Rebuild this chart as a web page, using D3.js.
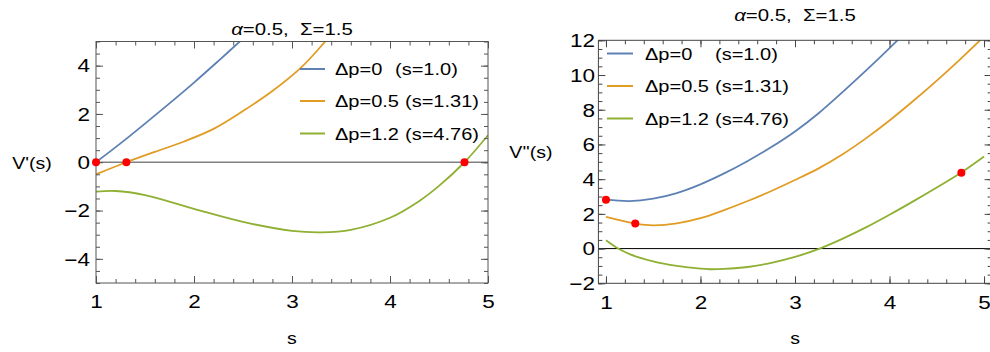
<!DOCTYPE html>
<html>
<head>
<meta charset="utf-8">
<script src="https://cdn.jsdelivr.net/npm/d3@7"></script>
<style>
  body { margin: 0; background: #fff; }
  text { font-family: "Liberation Sans", Arial, sans-serif; fill: #000; }
</style>
</head>
<body>
<svg id="chart" width="990" height="352"></svg>
<script>
// legend text
const seriesLabels = ["Δp=0", "Δp=0.5", "Δp=1.2"]
const rootLabels = ["(s=1.0)", "(s=1.31)", "(s=4.76)"]

// V'(s): [s, value]
const d1Dp0 = [[1, 0], [1.25, 0.78], [1.5, 1.6], [1.75, 2.44], [2.0, 3.3], [2.25, 4.2], [2.5, 5.12], [2.6, 5.5]]
const d1Dp05 = [[1, -0.5], [1.31, 0], [1.6, 0.43], [1.9, 0.86], [2.2, 1.38], [2.5, 2.12], [2.8, 2.95], [3.1, 3.95], [3.35, 5.05], [3.45, 5.5]]
const d1Dp12 = [[1, -1.22], [1.2, -1.19], [1.5, -1.36], [2.0, -1.93], [2.5, -2.47], [3.0, -2.84], [3.3, -2.9],
  [3.6, -2.8], [4.0, -2.3], [4.3, -1.6], [4.5, -0.98], [4.76, 0], [5.0, 1.12]]
const d1Roots = [[1.0, 0], [1.31, 0], [4.76, 0]]

// V''(s)
const d2Dp0 = [[1, 2.82], [1.25, 2.74], [1.5, 2.88], [1.75, 3.2], [2.0, 3.7], [2.25, 4.33], [2.5, 5.05], [2.75, 5.85],
  [3.0, 6.75], [3.25, 7.8], [3.5, 9.0], [3.75, 10.25], [4.0, 11.55], [4.25, 12.9]]
const d2Dp05 = [[1, 1.82], [1.31, 1.44], [1.5, 1.34], [1.75, 1.45], [2.0, 1.75], [2.25, 2.22], [2.5, 2.74], [2.75, 3.32],
  [3.0, 3.95], [3.25, 4.62], [3.5, 5.42], [3.75, 6.35], [4.0, 7.38], [4.25, 8.5], [4.5, 9.68], [4.75, 10.92], [5.0, 12.22]]
const d2Dp12 = [[1, 0.48], [1.13, 0], [1.25, -0.32], [1.5, -0.74], [1.75, -1.0], [2.0, -1.16], [2.1, -1.19], [2.25, -1.17],
  [2.5, -1.06], [2.75, -0.82], [3.0, -0.48], [3.26, 0], [3.5, 0.56], [3.75, 1.22], [4.0, 1.95], [4.25, 2.72],
  [4.5, 3.52], [4.76, 4.38], [5.0, 5.3]]
const d2Roots = [[1.0, 2.82], [1.31, 1.44], [4.76, 4.37]]

// tick labels
const xTicks = [1, 2, 3, 4, 5]
const y1Ticks = [-4, -2, 0, 2, 4]
const y2Ticks = [-2, 0, 2, 4, 6, 8, 10, 12]

const colors = ["#5e81b5", "#e19c24", "#8fb032"]
const stretch = 1.25   // reference text is drawn wide

const svg = d3.select("#chart")
svg.append("rect").attr("width", 990).attr("height", 352).attr("fill", "#fff")

function label(g, x, y, str, size, anchor, k) {
    return g.append("text")
        .attr("transform", `translate(${x},${y}) scale(${k},1)`)
        .attr("font-size", size)
        .attr("text-anchor", anchor)
        .style("white-space", "pre")
        .text(str)
}

function panel(p) {
    const g = svg.append("g")
    const x = d3.scaleLinear().domain(p.xDomain).range(p.xRange)
    const y = d3.scaleLinear().domain(p.yDomain).range(p.yRange)
    const [x0, x1] = p.xRange
    const [yb, yt] = p.yRange

    const clipId = "clip" + p.id
    g.append("clipPath").attr("id", clipId)
        .append("rect").attr("x", x0).attr("y", yt).attr("width", x1 - x0).attr("height", yb - yt)

    // zero line
    g.append("line")
        .attr("x1", x0).attr("x2", x1)
        .attr("y1", y(0)).attr("y2", y(0))
        .attr("stroke", p.zeroColor).attr("stroke-width", p.zeroWidth)

    // curves
    const line = d3.line()
        .x(d => x(d[0]))
        .y(d => y(d[1]))
        .curve(d3.curveCatmullRom.alpha(0.5))

    g.append("g").attr("clip-path", `url(#${clipId})`)
        .selectAll("path").data(p.series).enter()
        .append("path")
        .attr("d", line)
        .attr("fill", "none")
        .attr("stroke", (d, i) => colors[i])
        .attr("stroke-width", 1.8)

    // frame ticks, pointing inward on all four sides
    const xMinor = d3.range(1, 5.001, 0.2)
    const yMinor = d3.range(p.yDomain[0], p.yDomain[1] + 0.001, 0.5)
    const noDomain = s => s.select(".domain").remove()
    const frameTicks = (axis, tr, vals, size) => {
        g.append("g").attr("transform", tr)
            .call(axis.tickValues(vals).tickSize(size).tickFormat(""))
            .call(noDomain)
            .selectAll("line").attr("stroke", p.frameColor)
    }
    frameTicks(d3.axisTop(x), `translate(0,${yb})`, xMinor, 4)
    frameTicks(d3.axisTop(x), `translate(0,${yb})`, xTicks, 7)
    frameTicks(d3.axisBottom(x), `translate(0,${yt})`, xMinor, 4)
    frameTicks(d3.axisBottom(x), `translate(0,${yt})`, xTicks, 7)
    frameTicks(d3.axisRight(y), `translate(${x0},0)`, yMinor, 4)
    frameTicks(d3.axisRight(y), `translate(${x0},0)`, p.yTicks, 7)
    frameTicks(d3.axisLeft(y), `translate(${x1},0)`, yMinor, 4)
    frameTicks(d3.axisLeft(y), `translate(${x1},0)`, p.yTicks, 7)

    g.append("rect")
        .attr("x", x0).attr("y", yt)
        .attr("width", x1 - x0).attr("height", yb - yt)
        .attr("fill", "none").attr("stroke", p.frameColor).attr("stroke-width", 1)

    // tick labels
    g.append("g").attr("transform", `translate(0,${yb})`)
        .call(d3.axisBottom(x).tickValues(xTicks).tickSize(0).tickFormat(d3.format("d")))
        .call(noDomain)
        .selectAll("text")
        .attr("y", 25.5).attr("dy", 0)
        .attr("font-size", 18)
        .attr("font-family", null)
        .attr("transform", `scale(${stretch},1)`)

    g.append("g").attr("transform", `translate(${x0},0)`)
        .call(d3.axisLeft(y).tickValues(p.yTicks).tickSize(0).tickFormat(d3.format("d")))
        .call(noDomain)
        .selectAll("text")
        .attr("x", 0).attr("dy", "0.35em")
        .attr("font-size", 18)
        .attr("font-family", null)
        .attr("transform", `translate(${-p.yLabelGap},0) scale(${stretch},1)`)

    // red points at the roots
    g.append("g").selectAll("circle").data(p.roots).enter()
        .append("circle")
        .attr("cx", d => x(d[0]))
        .attr("cy", d => y(d[1]))
        .attr("r", 4)
        .attr("fill", "#ff0000")

    // title and axis labels
    const title = g.append("text")
        .attr("transform", `translate(${p.titlePos[0]},${p.titlePos[1]}) scale(1.2,1)`)
        .attr("font-size", 17)
        .attr("text-anchor", "middle")
        .style("white-space", "pre")
    title.append("tspan").attr("font-style", "italic").text("α")
    title.append("tspan").text("=0.5,  Σ=1.5")

    label(g, p.yLabelPos[0], p.yLabelPos[1], p.yLabel, 17, "middle", 1.15)
    label(g, (x0 + Math.min(x1, 990)) / 2 + p.sLabelShift, 344, "s", 17, "middle", 1.15)

    // legend
    const lg = g.append("g")
    seriesLabels.forEach((s, i) => {
        const ly = p.legendRows[i]
        lg.append("line")
            .attr("x1", p.legendLine[0]).attr("x2", p.legendLine[1])
            .attr("y1", ly).attr("y2", ly)
            .attr("stroke", colors[i]).attr("stroke-width", 2)
        label(lg, p.legendText, ly + 6, s, 16, "start", stretch)
        label(lg, p.rootText[i], ly + 6, rootLabels[i], 16, "start", stretch)
    })
}

panel({
    id: 1,
    xDomain: [1, 5], xRange: [96, 488],
    yDomain: [-5, 5], yRange: [283, 41.5],
    yTicks: y1Ticks,
    series: [d1Dp0, d1Dp05, d1Dp12],
    roots: d1Roots,
    zeroColor: "#808080", zeroWidth: 1.4,
    frameColor: "#555",
    yLabelGap: 6,
    titlePos: [292, 34.5],
    yLabel: "V'(s)", yLabelPos: [32, 169],
    sLabelShift: 0,
    legendRows: [69, 101, 133.5],
    legendLine: [300, 325], legendText: 335, rootText: [395, 405, 405]
})

panel({
    id: 2,
    xDomain: [0.92, 5.08], xRange: [598.4, 991.6],
    yDomain: [-2, 12], yRange: [283.3, 40.3],
    yTicks: y2Ticks,
    series: [d2Dp0, d2Dp05, d2Dp12],
    roots: d2Roots,
    zeroColor: "#000", zeroWidth: 1,
    frameColor: "#444",
    yLabelGap: 3.5,
    titlePos: [795, 21],
    yLabel: "V''(s)", yLabelPos: [531, 158],
    sLabelShift: 1,
    legendRows: [53.5, 86, 118.5],
    legendLine: [607, 633], legendText: 645, rootText: [715, 715, 715]
})
</script>
</body>
</html>
